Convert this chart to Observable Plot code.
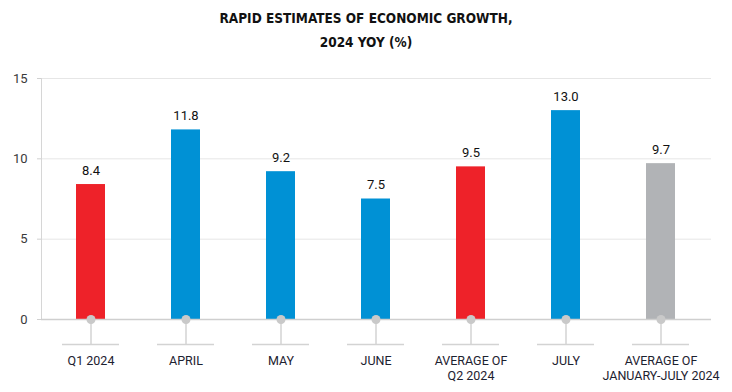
<!DOCTYPE html>
<html>
<head>
<meta charset="utf-8">
<script src="https://cdn.jsdelivr.net/npm/d3@7"></script>
<script src="https://cdn.jsdelivr.net/npm/@observablehq/plot@0.6"></script>
<style>
  html, body { margin: 0; padding: 0; background: #fff; }
  #wrap { width: 732px; height: 392px; position: relative; overflow: hidden; }
  #title { height: 60px; position: relative; font-family: "Liberation Sans Narrow", "DejaVu Sans Condensed", sans-serif; font-stretch: condensed; font-weight: bold; font-size: 13.5px; color: #111; }
  #title div { position: absolute; left: 0; width: 732px; text-align: center; }
  svg { display: block; }
</style>
</head>
<body>
<div id="wrap">
  <div id="title">
    <div style="top: 10px;">RAPID ESTIMATES OF ECONOMIC GROWTH,</div>
    <div style="top: 34px;">2024 YOY (%)</div>
  </div>
  <div id="chart"></div>
</div>
<script>
const categories = ["Q1 2024", "APRIL", "MAY", "JUNE", "AVERAGE OF Q2 2024", "JULY", "AVERAGE OF JANUARY-JULY 2024"];
const tickLabels = ["Q1 2024", "APRIL", "MAY", "JUNE", "AVERAGE OF\nQ2 2024", "JULY", "AVERAGE OF\nJANUARY-JULY 2024"];
const values = [8.4, 11.8, 9.2, 7.5, 9.5, 13.0, 9.7];
const kinds = ["quarter", "month", "month", "month", "quarter", "month", "average"];
const yTicks = [0, 5, 10, 15];

const colorOf = {quarter: "#ee2229", month: "#0091d5", average: "#b1b3b6"};
const data = categories.map((c, i) => ({cat: c, value: values[i], kind: kinds[i], label: tickLabels[i]}));
const labelOf = new Map(categories.map((c, i) => [c, tickLabels[i]]));

const chart = Plot.plot({
  width: 732,
  height: 332,
  marginLeft: 41,
  marginRight: 21,
  marginTop: 18,
  marginBottom: 73,
  style: {fontFamily: "Roboto, sans-serif", background: "#fff"},
  x: {domain: categories, paddingInner: 0.69, paddingOuter: 0.345, align: 0.5, axis: null, label: null},
  y: {domain: [0, 15], axis: null, label: null},
  marks: [
    Plot.gridY(yTicks, {stroke: "#e6e6e6", strokeOpacity: 1}),
    Plot.frame({anchor: "left", stroke: "#d6d6d6"}),
    Plot.axisY(yTicks, {label: null, tickSize: 4, tickPadding: 10, stroke: "#d0d0d0", fill: "#3a3a3a", fontSize: 13, tickFormat: d => String(d)}),
    Plot.barY(data, {x: "cat", y: "value", fill: d => colorOf[d.kind]}),
    Plot.ruleY([0], {stroke: "#cfcfcf", strokeWidth: 1.5}),
    Plot.axisX({label: null, tickSize: 25, tickPadding: 10, stroke: "#d3d3d3", strokeWidth: 1.5, fill: "#1d2230", fontSize: 12.5, lineHeight: 1.2, tickFormat: d => labelOf.get(d)}),
    Plot.ruleY(data, {y: 0, x1: "cat", x2: "cat", dy: 25, insetLeft: -14, insetRight: -14, stroke: "#d3d3d3", strokeWidth: 1.5}),
    Plot.dot(data, {x: "cat", y: 0, r: 4.5, fill: "#c9c9c9", stroke: null}),
    Plot.text(data, {x: "cat", y: "value", text: d => d.value.toFixed(1), dy: -14, fontSize: 13, fill: "#111"})
  ]
});
document.getElementById("chart").appendChild(chart);
</script>
</body>
</html>
